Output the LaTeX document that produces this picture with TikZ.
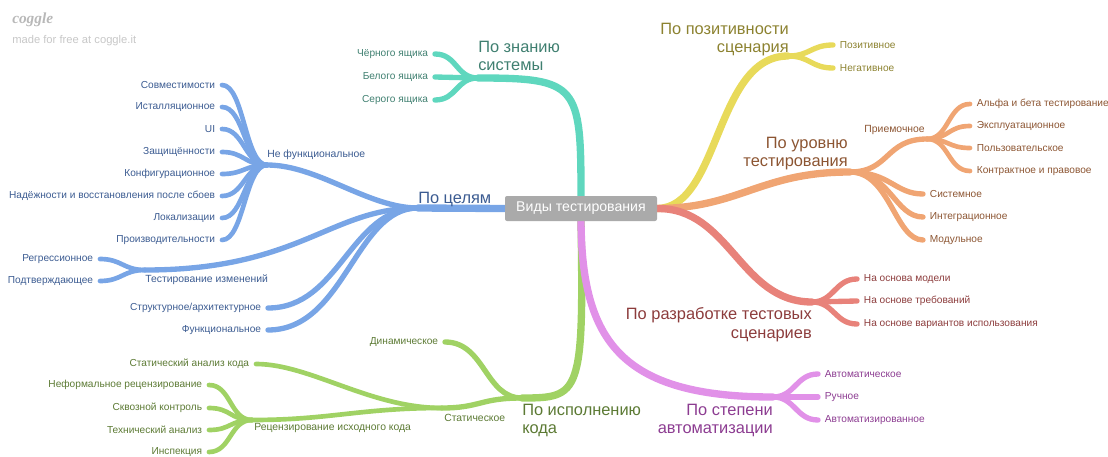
\documentclass[tikz,border=0pt]{standalone}
\usepackage{fontspec}
\setmainfont{Liberation Sans}
\newfontfamily\logofont{Liberation Serif}
\usetikzlibrary{backgrounds}
\definecolor{tealL}{HTML}{5FD7BE}\definecolor{tealT}{HTML}{3F7F70}
\definecolor{blueL}{HTML}{78A5E6}\definecolor{blueT}{HTML}{3B5B91}
\definecolor{greenL}{HTML}{A0D264}\definecolor{greenT}{HTML}{5C7A34}
\definecolor{yelL}{HTML}{E8DA5A}\definecolor{yelT}{HTML}{8C8230}
\definecolor{orL}{HTML}{F0A573}\definecolor{orT}{HTML}{8C5532}
\definecolor{salL}{HTML}{E8827A}\definecolor{salT}{HTML}{8C3C3C}
\definecolor{purL}{HTML}{E191E8}\definecolor{purT}{HTML}{8C3C91}
\definecolor{rootG}{HTML}{AAAAAA}
\begin{document}
\begin{tikzpicture}[x=0.75pt,y=-0.75pt,
  mainln/.style={line width=5.5pt,line cap=round},
  subln/.style={line width=4pt,line cap=round},
  lfln/.style={line width=3.5pt,line cap=round},
  leafE/.style={anchor=east,inner xsep=5pt,inner ysep=0pt,font=\fontsize{7.6}{9}\selectfont},
  leafW/.style={anchor=west,inner xsep=5pt,inner ysep=0pt,font=\fontsize{7.6}{9}\selectfont},
  subl/.style={inner sep=0pt,font=\fontsize{7.8}{9}\selectfont},
  bigl/.style={inner sep=0pt,font=\fontsize{12.3}{14}\selectfont}]
\useasboundingbox (0,0) rectangle (1108,457);

% watermark
\node[anchor=west,inner sep=0pt,text=black!28,font=\logofont\itshape\bfseries\fontsize{11.5}{12}\selectfont] (logo) at (12,20) {coggle};
\node[anchor=west,inner sep=0pt,text=black!22,font=\fontsize{8.4}{10}\selectfont] (made) at (12,41) {made for free at coggle.it};

% root
\node[fill=rootG,rounded corners=1.5pt,text=white,minimum width=114pt,minimum height=18.75pt,inner sep=0pt,font=\fontsize{10.6}{12}\selectfont] (root) at (581,208.5) {Виды тестирования};

\begin{scope}[on background layer]
% ---------- teal
\coordinate (T) at (478,78);
\draw[mainln,tealL] (root.north) .. controls (581,85) and (578,78) .. (T);
\node[leafE,text=tealT] (t1) at (435,54) {Чёрного ящика};
\node[leafE,text=tealT] (t2) at (435,77) {Белого ящика};
\node[leafE,text=tealT] (t3) at (435,100) {Серого ящика};
\foreach \n in {t1,t2,t3} \draw[subln,tealL] (T) .. controls +(-22,0) and +(22,0) .. (\n.east);

% ---------- blue
\coordinate (B) at (418,208);
\draw[mainln,blueL] (root.west) -- (B);
\coordinate (NF) at (267,165);
\draw[subln,blueL] (B) .. controls (368,208) and (318,165) .. (NF);
\node[leafE,text=blueT] (b1) at (222,85) {Совместимости};
\node[leafE,text=blueT] (b2) at (222,107) {Исталляционное};
\node[leafE,text=blueT] (b3) at (222,129) {UI};
\node[leafE,text=blueT] (b4) at (222,152) {Защищённости};
\node[leafE,text=blueT] (b5) at (222,174) {Конфигурационное};
\node[leafE,text=blueT] (b6) at (222,196) {Надёжности и восстановления после сбоев};
\node[leafE,text=blueT] (b7) at (222,218) {Локализации};
\node[leafE,text=blueT] (b8) at (222,240) {Производительности};
\foreach \n in {b1,b2,b3,b4,b5,b6,b7,b8} \draw[lfln,blueL] (NF) .. controls +(-22,0) and +(22,0) .. (\n.east);
\coordinate (TI) at (145,270);
\draw[subln,blueL] (B) .. controls (330,208) and (300,270) .. (TI);
\node[leafE,text=blueT] (r1) at (100,259) {Регрессионное};
\node[leafE,text=blueT] (r2) at (100,281) {Подтверждающее};
\foreach \n in {r1,r2} \draw[lfln,blueL] (TI) .. controls +(-22,0) and +(22,0) .. (\n.east);
\node[leafE,text=blueT] (st) at (268,308) {Структурное/архитектурное};
\node[leafE,text=blueT] (fu) at (268,330) {Функциональное};
\draw[subln,blueL] (B) .. controls (350,208) and (340,308) .. (st.east);
\draw[subln,blueL] (B) .. controls (355,208) and (345,330) .. (fu.east);

% ---------- green
\coordinate (G) at (522,398);
\draw[mainln,greenL] (root.south) .. controls (584,395) and (580,398) .. (G);
\node[leafE,text=greenT] (dy) at (445,342) {Динамическое};
\draw[subln,greenL] (G) .. controls (485,398) and (485,342) .. (dy.east);
\coordinate (ST) at (442,408);
\draw[subln,greenL] (G) .. controls (480,398) and (480,408) .. (ST);
\node[leafE,text=greenT] (sa) at (256,364) {Статический анализ кода};
\draw[lfln,greenL] (ST) .. controls (370,408) and (310,364) .. (sa.east);
\coordinate (RC) at (252,420);
\draw[lfln,greenL] (ST) .. controls (360,408) and (330,420) .. (RC);
\node[leafE,text=greenT] (g1) at (209,385) {Неформальное рецензирование};
\node[leafE,text=greenT] (g2) at (209,408) {Сквозной контроль};
\node[leafE,text=greenT] (g3) at (209,430) {Технический анализ};
\node[leafE,text=greenT] (g4) at (209,452) {Инспекция};
\foreach \n in {g1,g2,g3,g4} \draw[lfln,greenL] (RC) .. controls +(-22,0) and +(22,0) .. (\n.east);

% ---------- yellow
\coordinate (Y) at (788,56);
\draw[mainln,yelL] (root.east) .. controls (720,208) and (715,56) .. (Y);
\node[leafW,text=yelT] (y1) at (833,45) {Позитивное};
\node[leafW,text=yelT] (y2) at (833,68) {Негативное};
\foreach \n in {y1,y2} \draw[subln,yelL] (Y) .. controls +(22,0) and +(-22,0) .. (\n.west);

% ---------- orange
\coordinate (O) at (850,172);
\draw[mainln,orL] (root.east) .. controls (740,208) and (760,172) .. (O);
\coordinate (PR) at (927,139);
\draw[subln,orL] (O) .. controls (890,172) and (885,139) .. (PR);
\node[leafW,text=orT] (o1) at (970,104) {Альфа и бета тестирование};
\node[leafW,text=orT] (o2) at (970,126) {Эксплуатационное};
\node[leafW,text=orT] (o3) at (970,148) {Пользовательское};
\node[leafW,text=orT] (o4) at (970,171) {Контрактное и правовое};
\foreach \n in {o1,o2,o3,o4} \draw[lfln,orL] (PR) .. controls +(22,0) and +(-22,0) .. (\n.west);
\node[leafW,text=orT] (o5) at (923,194) {Системное};
\node[leafW,text=orT] (o6) at (923,217) {Интеграционное};
\node[leafW,text=orT] (o7) at (923,240) {Модульное};
\foreach \n in {o5,o6,o7} \draw[subln,orL] (O) .. controls +(40,0) and +(-28,0) .. (\n.west);

% ---------- salmon
\coordinate (S) at (812,302);
\draw[mainln,salL] (root.east) .. controls (730,208) and (740,302) .. (S);
\node[leafW,text=salT] (s1) at (857,279) {На основа модели};
\node[leafW,text=salT] (s2) at (857,301) {На основе требований};
\node[leafW,text=salT] (s3) at (857,324) {На основе вариантов использования};
\foreach \n in {s1,s2,s3} \draw[subln,salL] (S) .. controls +(22,0) and +(-22,0) .. (\n.west);

% ---------- purple
\coordinate (P) at (773,397);
\draw[mainln,purL] (root.south) .. controls (582,340) and (620,397) .. (P);
\node[leafW,text=purT] (p1) at (818,374) {Автоматическое};
\node[leafW,text=purT] (p2) at (818,397) {Ручное};
\node[leafW,text=purT] (p3) at (818,420) {Автоматизированное};
\foreach \n in {p1,p2,p3} \draw[subln,purL] (P) .. controls +(22,0) and +(-22,0) .. (\n.west);
\end{scope}

% labels
\node[bigl,text=tealT,anchor=north west,align=left] (lt) at (478,40.5) {По знанию\\системы};
\node[bigl,text=blueT,anchor=base west] (lb) at (418,203) {По целям};
\node[subl,text=blueT,anchor=west] (lnf) at (267,155) {Не функциональное};
\node[subl,text=blueT,anchor=west] (lti) at (145,280) {Тестирование изменений};
\node[bigl,text=greenT,anchor=north west,align=left] (lg) at (522,403.5) {По исполнению\\кода};
\node[subl,text=greenT,anchor=west] (lst) at (444,418) {Статическое};
\node[subl,text=greenT,anchor=west] (lrc) at (254,428) {Рецензирование исходного кода};
\node[bigl,text=yelT,anchor=north east,align=right] (ly) at (789,22.5) {По позитивности\\сценария};
\node[bigl,text=orT,anchor=north east,align=right] (lo) at (848,136.5) {По уровню\\тестирования};
\node[subl,text=orT,anchor=east] (lpr) at (925,130) {Приемочное};
\node[bigl,text=salT,anchor=north east,align=right] (ls) at (812,307.5) {По разработке тестовых\\сценариев};
\node[bigl,text=purT,anchor=north east,align=right] (lp) at (773,403.5) {По степени\\автоматизации};
\end{tikzpicture}
\end{document}
